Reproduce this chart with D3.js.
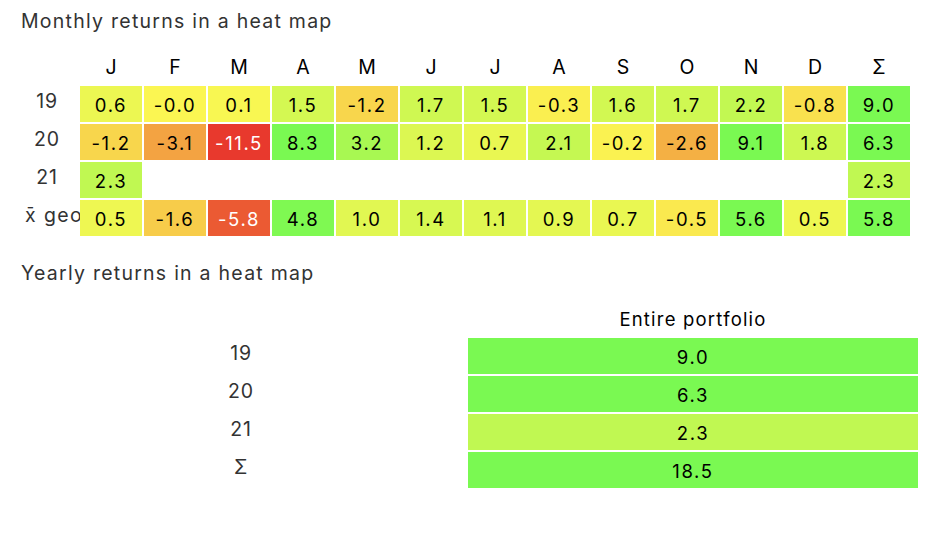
<!DOCTYPE html>
<html>
<head>
<meta charset="utf-8">
<script src="https://cdn.jsdelivr.net/npm/d3@7"></script>
<style>
  html, body { margin: 0; padding: 0; background: #fff; }
  #main { width: 938px; height: 536px; }
  text { font-family: Inter, "Liberation Sans", Arial, sans-serif; }
</style>
</head>
<body>
<div id="main"></div>
<script>
// column labels of the monthly table (last one is the yearly sum)
const monthLabels = ["J", "F", "M", "A", "M", "J", "J", "A", "S", "O", "N", "D", "Σ"];
const rowLabels = ["19", "20", "21", "x\u0304 geo"];

// monthly returns in percent
const returns19 = [0.6, -0.04, 0.1, 1.5, -1.2, 1.7, 1.5, -0.3, 1.6, 1.7, 2.2, -0.8];
const returns20 = [-1.2, -3.1, -11.5, 8.3, 3.2, 1.2, 0.7, 2.1, -0.2, -2.6, 9.1, 1.8];
const returns21 = [2.3];
const geoMean = [0.5, -1.6, -5.8, 4.8, 1.0, 1.4, 1.1, 0.9, 0.7, -0.5, 5.6, 0.5];
const rowSums = [9.0, 6.3, 2.3, 5.8];

// yearly table
const yearLabels = ["19", "20", "21", "Σ"];
const yearlyReturns = [9.0, 6.3, 2.3, 18.5];
const yearlyColumn = ["Entire portfolio"];

function createChart() {
    d3.select("#main svg").remove();

    const svg = d3.select("#main").append("svg")
        .attr("width", 938)
        .attr("height", 536);

    // red -> yellow -> green, clamped at the ends
    const color = d3.scaleLinear()
        .domain([-7, 0, 5])
        .range(["#e8392d", "#fbf752", "#7af952"])
        .interpolate(d3.interpolateRgb)
        .clamp(true);

    const textColor = v => d3.lab(color(v)).l < 62 ? "#fff" : "#000";
    const fmt = v => v.toFixed(1);

    // build monthly cells
    const monthlyRows = [returns19, returns20, returns21, geoMean];
    const cells = [];
    monthlyRows.forEach((row, r) => {
        row.forEach((v, c) => cells.push({ r, c, v }));
        cells.push({ r, c: 12, v: rowSums[r] });
    });

    // ---- Monthly returns ----
    svg.append("text")
        .attr("x", 21).attr("y", 28)
        .attr("font-size", 19.5)
        .attr("letter-spacing", 1.25)
        .attr("fill", "#333")
        .text("Monthly returns in a heat map");

    const x = d3.scaleBand()
        .domain(d3.range(monthLabels.length))
        .range([80, 912]);

    const y = d3.scaleBand()
        .domain(d3.range(rowLabels.length))
        .range([86, 238]);

    const m = svg.append("g");

    m.append("g").selectAll("text")
        .data(monthLabels)
        .enter().append("text")
        .attr("x", (d, i) => x(i) + (x.bandwidth() - 2) / 2)
        .attr("y", 74)
        .attr("text-anchor", "middle")
        .attr("font-size", 19.5)
        .attr("fill", "#000")
        .text(d => d);

    // the last row label runs into the first column, so cut it there
    svg.append("clipPath").attr("id", "labelClip")
        .append("rect").attr("x", 0).attr("y", 0).attr("width", 80).attr("height", 536);

    m.append("g")
        .attr("clip-path", "url(#labelClip)")
        .selectAll("text")
        .data(rowLabels)
        .enter().append("text")
        .attr("x", (d, i) => i < 3 ? 47 : 25)
        .attr("y", (d, i) => y(i) + 22)
        .attr("text-anchor", (d, i) => i < 3 ? "middle" : "start")
        .attr("font-size", 19.5)
        .attr("letter-spacing", (d, i) => i < 3 ? 0.8 : 1.4)
        .attr("fill", "#333")
        .text(d => d);

    const cell = m.append("g").selectAll("g")
        .data(cells)
        .enter().append("g");

    cell.append("rect")
        .attr("x", d => x(d.c))
        .attr("y", d => y(d.r))
        .attr("width", x.bandwidth() - 2)
        .attr("height", y.bandwidth() - 2)
        .attr("fill", d => color(d.v));

    cell.append("text")
        .attr("x", d => x(d.c) + (x.bandwidth() - 2) / 2)
        .attr("y", d => y(d.r) + 26)
        .attr("text-anchor", "middle")
        .attr("font-size", 18.5)
        .attr("letter-spacing", 1.6)
        .attr("fill", d => textColor(d.v))
        .text(d => fmt(d.v));

    // ---- Yearly returns ----
    svg.append("text")
        .attr("x", 21).attr("y", 280)
        .attr("font-size", 19.5)
        .attr("letter-spacing", 1.25)
        .attr("fill", "#333")
        .text("Yearly returns in a heat map");

    const yx = d3.scaleBand()
        .domain(yearlyColumn)
        .range([468, 920]);

    const yy = d3.scaleBand()
        .domain(d3.range(yearLabels.length))
        .range([338, 490]);

    const yr = svg.append("g");

    yr.append("text")
        .attr("x", yx(yearlyColumn[0]) + (yx.bandwidth() - 2) / 2)
        .attr("y", 326)
        .attr("text-anchor", "middle")
        .attr("font-size", 18.5)
        .attr("letter-spacing", 1.2)
        .attr("fill", "#000")
        .text(yearlyColumn[0]);

    yr.append("g").selectAll("text")
        .data(yearLabels)
        .enter().append("text")
        .attr("x", 241)
        .attr("y", (d, i) => yy(i) + 22)
        .attr("text-anchor", "middle")
        .attr("font-size", 19.5)
        .attr("letter-spacing", 0.8)
        .attr("fill", "#333")
        .text(d => d);

    const ycell = yr.append("g").selectAll("g")
        .data(yearlyReturns)
        .enter().append("g");

    ycell.append("rect")
        .attr("x", yx(yearlyColumn[0]))
        .attr("y", (d, i) => yy(i))
        .attr("width", yx.bandwidth() - 2)
        .attr("height", yy.bandwidth() - 2)
        .attr("fill", d => color(d));

    ycell.append("text")
        .attr("x", yx(yearlyColumn[0]) + (yx.bandwidth() - 2) / 2)
        .attr("y", (d, i) => yy(i) + 26)
        .attr("text-anchor", "middle")
        .attr("font-size", 18.5)
        .attr("letter-spacing", 1.6)
        .attr("fill", d => textColor(d))
        .text(d => fmt(d));
}

document.addEventListener("DOMContentLoaded", function() {
    createChart();
});
</script>
</body>
</html>
